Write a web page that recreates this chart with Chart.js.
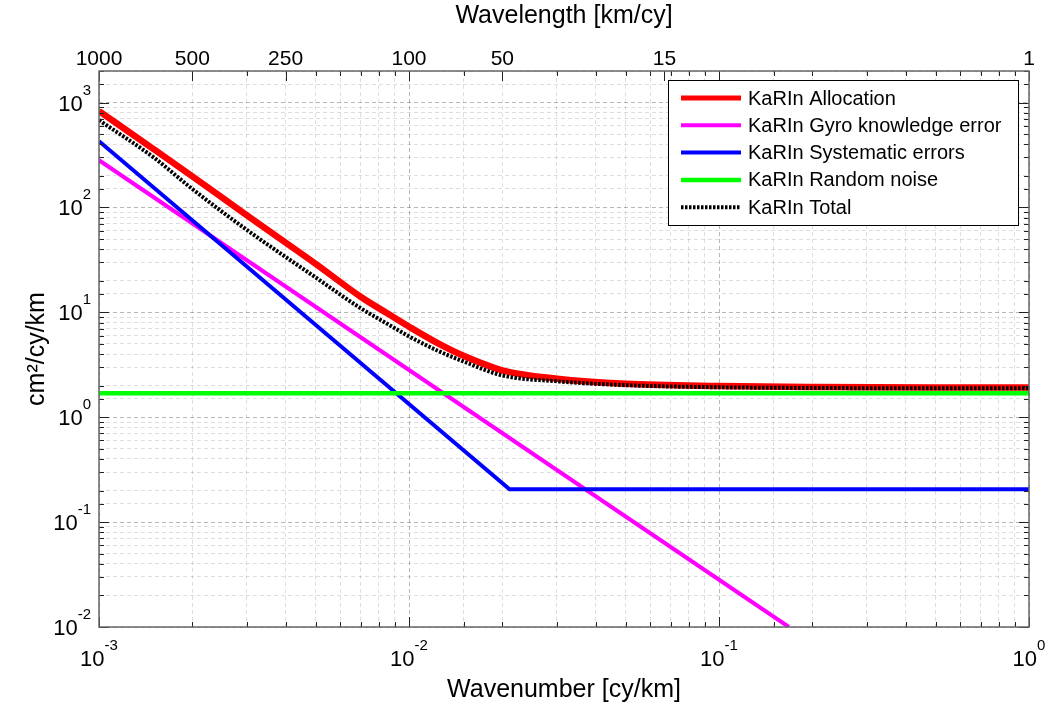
<!DOCTYPE html>
<html>
<head>
<meta charset="utf-8">
<title>KaRIn error spectrum</title>
<script src="https://cdn.jsdelivr.net/npm/chart.js@4.4.1/dist/chart.umd.min.js"></script>
<style>
  html, body { margin: 0; padding: 0; background: #fff; }
  #grafico { display: block; }
</style>
</head>
<body>
<canvas id="grafico" width="1050" height="710"></canvas>
<script>
// Curved lines at these wavenumbers (cy/km)
const wavenumber = [0.001, 0.0015, 0.002, 0.003, 0.005, 0.007, 0.0085, 0.01, 0.0125, 0.015, 0.02, 0.03, 0.05, 0.1, 0.2, 0.5, 1];
const allocation = [830, 360, 198, 84, 29, 14, 9.8, 7.3, 5.0, 3.85, 2.8, 2.33, 2.08, 1.98, 1.94, 1.92, 1.92];
const total = [680, 300, 150, 61, 21.5, 10.9, 7.8, 5.9, 4.25, 3.4, 2.5, 2.2, 2.02, 1.93, 1.9, 1.89, 1.89];

// Straight lines on log-log, only their corners
const gyroK = [0.001, 0.168];
const gyro = [282, 0.01];
const systK = [0.001, 0.0211, 1];
const syst = [428, 0.206, 0.206];
const noiseK = [0.001, 1];
const noise = [1.69, 1.69];

// Tick labels
const xExponents = [-3, -2, -1, 0];
const yExponents = [-2, -1, 0, 1, 2, 3];
const wavelengthTicks = [1000, 500, 250, 100, 50, 15, 1];

const FONT = "'Liberation Sans', Arial, Helvetica, sans-serif";
Chart.defaults.font.family = FONT;
Chart.defaults.color = '#000';

function pontos(xs, ys) {
    return xs.map((x, i) => ({ x: x, y: ys[i] }));
}

function isDecade(v) {
    const l = Math.log10(v);
    return Math.abs(l - Math.round(l)) < 1e-6;
}

const gridColor = (c) => isDecade(c.tick.value) ? 'rgba(0,0,0,0.28)' : 'rgba(0,0,0,0.13)';

// "10" with a small exponent, like the matlab tick labels
function potencia(ctx, exp, px, py, align) {
    ctx.font = '22px ' + FONT;
    const w10 = ctx.measureText('10').width;
    ctx.font = '15px ' + FONT;
    const we = ctx.measureText(String(exp)).width;
    const x0 = align === 'right' ? px - w10 - we : px - (w10 + we) / 2;
    ctx.textAlign = 'left';
    ctx.textBaseline = 'alphabetic';
    ctx.font = '22px ' + FONT;
    ctx.fillText('10', x0, py);
    ctx.font = '15px ' + FONT;
    ctx.fillText(String(exp), x0 + w10, py - 16);
}

// Frame, inward ticks, tick labels and legend
const moldura = {
    id: 'moldura',
    afterDraw(chart) {
        const ctx = chart.ctx;
        const area = chart.chartArea;
        const x = chart.scales.x;
        const y = chart.scales.y;
        const x2 = chart.scales.x2;
        ctx.save();

        ctx.strokeStyle = '#222';
        ctx.lineWidth = 1;
        ctx.beginPath();
        y.ticks.forEach(t => {
            const py = Math.round(y.getPixelForValue(t.value)) + 0.5;
            const len = isDecade(t.value) ? 10 : 5;
            ctx.moveTo(area.left, py); ctx.lineTo(area.left + len, py);
            ctx.moveTo(area.right, py); ctx.lineTo(area.right - len, py);
        });
        x.ticks.forEach(t => {
            const px = Math.round(x.getPixelForValue(t.value)) + 0.5;
            const len = isDecade(t.value) ? 10 : 5;
            ctx.moveTo(px, area.bottom); ctx.lineTo(px, area.bottom - len);
            ctx.moveTo(px, area.top); ctx.lineTo(px, area.top + len);
        });
        x2.ticks.forEach(t => {
            const px = Math.round(x2.getPixelForValue(t.value)) + 0.5;
            ctx.moveTo(px, area.top); ctx.lineTo(px, area.top + 10);
        });
        ctx.stroke();

        ctx.strokeStyle = '#666';
        ctx.lineWidth = 1.5;
        ctx.strokeRect(area.left, area.top, area.right - area.left, area.bottom - area.top);

        ctx.fillStyle = '#000';
        xExponents.forEach(e => potencia(ctx, e, x.getPixelForValue(Math.pow(10, e)), area.bottom + 39, 'center'));
        yExponents.forEach(e => potencia(ctx, e, 91, y.getPixelForValue(Math.pow(10, e)) + 8, 'right'));

        ctx.font = '21px ' + FONT;
        ctx.textAlign = 'center';
        ctx.textBaseline = 'alphabetic';
        wavelengthTicks.forEach(w => ctx.fillText(String(w), x2.getPixelForValue(1 / w), area.top - 6));

        // legend box
        const lx = 668, ly = 80, lw = 350, lh = 145;
        ctx.fillStyle = '#fff';
        ctx.fillRect(lx, ly, lw, lh);
        ctx.strokeStyle = '#000';
        ctx.lineWidth = 1;
        ctx.strokeRect(lx + 0.5, ly + 0.5, lw, lh);
        chart.data.datasets.forEach((ds, i) => {
            const ry = ly + 18 + i * 27.3;
            ctx.beginPath();
            ctx.strokeStyle = ds.borderColor;
            ctx.lineWidth = Math.min(ds.borderWidth, 5);
            ctx.setLineDash(ds.borderDash || []);
            ctx.moveTo(lx + 13, ry);
            ctx.lineTo(lx + 73, ry);
            ctx.stroke();
            ctx.setLineDash([]);
            ctx.fillStyle = '#000';
            ctx.font = '20px ' + FONT;
            ctx.textAlign = 'left';
            ctx.textBaseline = 'middle';
            ctx.fillText(ds.label, lx + 80, ry + 1);
        });
        ctx.restore();
    }
};

const ctxEspectro = document.getElementById('grafico').getContext('2d');
const grafico = new Chart(ctxEspectro, {
    type: 'line',
    data: {
        datasets: [{
            label: 'KaRIn Allocation',
            data: pontos(wavenumber, allocation),
            borderColor: '#ff0000',
            borderWidth: 6.5,
            cubicInterpolationMode: 'monotone',
            order: 5
        }, {
            label: 'KaRIn Gyro knowledge error',
            data: pontos(gyroK, gyro),
            borderColor: '#ff00ff',
            borderWidth: 4,
            order: 4
        }, {
            label: 'KaRIn Systematic errors',
            data: pontos(systK, syst),
            borderColor: '#0000ff',
            borderWidth: 4,
            order: 3
        }, {
            label: 'KaRIn Random noise',
            data: pontos(noiseK, noise),
            borderColor: '#00ff00',
            borderWidth: 4.5,
            order: 2
        }, {
            label: 'KaRIn Total',
            data: pontos(wavenumber, total),
            borderColor: '#000000',
            borderWidth: 4,
            borderDash: [2.5, 1.5],
            cubicInterpolationMode: 'monotone',
            order: 1
        }]
    },
    options: {
        responsive: false,
        animation: false,
        devicePixelRatio: 1,
        layout: { padding: { left: 0, right: 21, top: 0, bottom: 0 } },
        elements: { point: { radius: 0 }, line: { fill: false } },
        plugins: { legend: { display: false }, tooltip: { enabled: false } },
        scales: {
            x: {
                type: 'logarithmic',
                position: 'bottom',
                min: 0.001,
                max: 1,
                ticks: { display: false },
                grid: { color: gridColor, drawTicks: false },
                border: { display: false, dash: [4, 3] },
                title: { display: true, text: 'Wavenumber [cy/km]', font: { size: 25 }, padding: { top: 0, bottom: 5 } },
                afterFit: (s) => { s.height = 83; }
            },
            x2: {
                type: 'logarithmic',
                position: 'top',
                min: 0.001,
                max: 1,
                afterBuildTicks: (s) => { s.ticks = wavelengthTicks.map(w => ({ value: 1 / w })); },
                ticks: { display: false },
                grid: { display: false },
                border: { display: false },
                title: { display: true, text: 'Wavelength [km/cy]', font: { size: 25 }, padding: { top: 1, bottom: 0 } },
                afterFit: (s) => { s.height = 71; }
            },
            y: {
                type: 'logarithmic',
                min: 0.01,
                max: 2000,
                ticks: { display: false },
                grid: { color: gridColor, drawTicks: false },
                border: { display: false, dash: [4, 3] },
                title: { display: true, text: 'cm²/cy/km', font: { size: 25 }, padding: { top: 22, bottom: 0 } },
                afterFit: (s) => { s.width = 99; }
            }
        }
    },
    plugins: [moldura]
});
</script>
</body>
</html>
